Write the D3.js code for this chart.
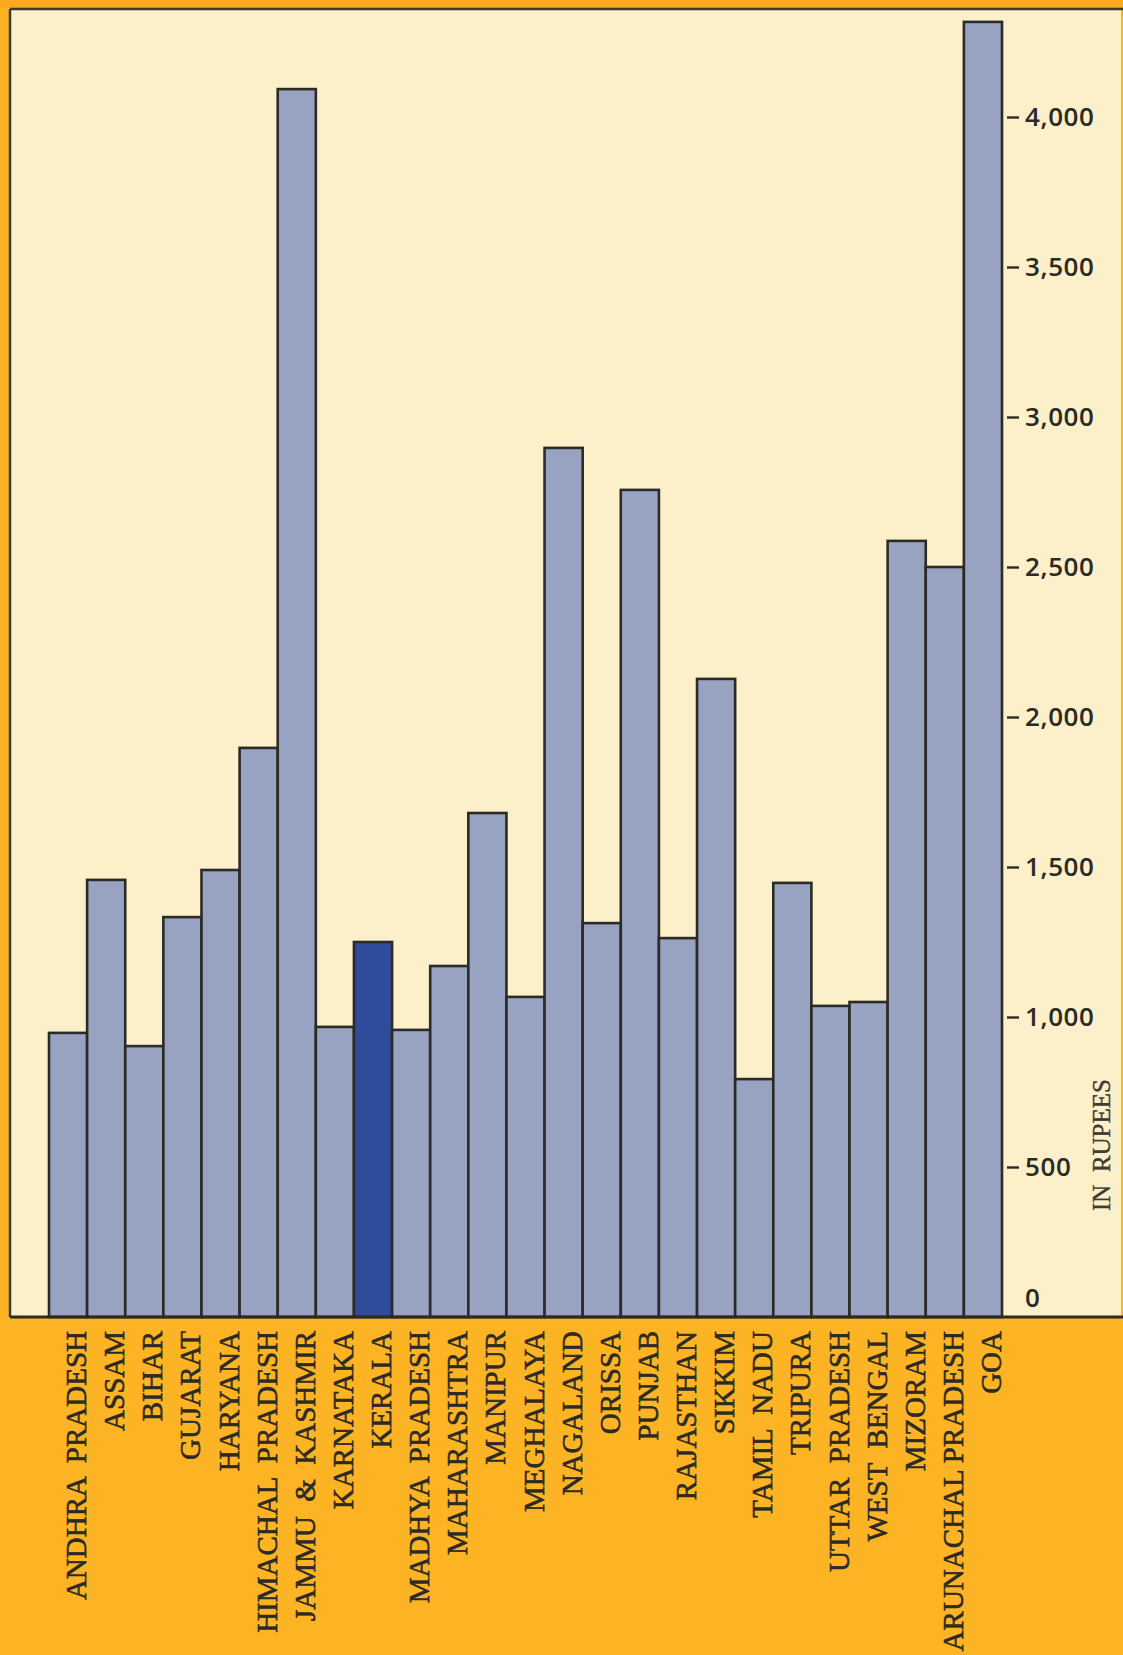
<!DOCTYPE html>
<html>
<head>
<meta charset="utf-8">
<script src="https://cdn.jsdelivr.net/npm/d3@7"></script>
<style>
body{margin:0;padding:0;background:#FDB424;}
svg{display:block;}
</style>
</head>
<body>
<div id="graph"></div>
<script>
// states, left to right
var states=["ANDHRA  PRADESH","ASSAM","BIHAR","GUJARAT","HARYANA","HIMACHAL  PRADESH",
	"JAMMU  &  KASHMIR","KARNATAKA","KERALA","MADHYA  PRADESH","MAHARASHTRA","MANIPUR",
	"MEGHALAYA","NAGALAND","ORISSA","PUNJAB","RAJASTHAN","SIKKIM","TAMIL  NADU","TRIPURA",
	"UTTAR  PRADESH","WEST  BENGAL","MIZORAM","ARUNACHAL PRADESH","GOA"];
// value in rupees
var values=[947,1457,903,1333,1490,1897,4093,967,1250,957,1170,1680,1067,2897,1313,2757,
	1263,2127,793,1447,1037,1050,2587,2500,4317];
var highlight="KERALA";
var yTicks=[0,500,1000,1500,2000,2500,3000,3500,4000];
var yMax=4360;
var unitLabel="IN  RUPEES";

// 設定
var width=1123, height=1655;
var plot={left:10,top:9,right:1121,bottom:1317};
var barLeft=49, barRight=1002;

var svg=d3.select("#graph").append("svg").attr("width",width).attr("height",height);

// orange page + cream plot area
svg.append("rect").attr("width",width).attr("height",height).attr("fill","#FDB424");
svg.append("rect").attr("x",0).attr("y",0).attr("width",width).attr("height",8).attr("fill","#FDA71E");
svg.append("rect")
	.attr("x",plot.left).attr("y",plot.top)
	.attr("width",plot.right-plot.left).attr("height",plot.bottom-plot.top)
	.attr("fill","#FCF0CA");

var x=d3.scaleBand().domain(states).range([barLeft,barRight]).padding(0);
var y=d3.scaleLinear().domain([0,yMax]).range([plot.bottom,plot.top]);

// bars
svg.append("g").selectAll("rect").data(states).enter().append("rect")
	.attr("x",function(d){return x(d);})
	.attr("y",function(d,i){return y(values[i]);})
	.attr("width",x.bandwidth())
	.attr("height",function(d,i){return y(0)-y(values[i]);})
	.attr("fill",function(d){return d==highlight?"#2F4C9B":"#98A2C1";})
	.attr("stroke","#2B2A24")
	.attr("stroke-width",2.6);

// frame lines
svg.append("line").attr("x1",plot.left).attr("x2",plot.left).attr("y1",plot.top).attr("y2",plot.bottom)
	.attr("stroke","#3A3A2C").attr("stroke-width",2.5);
svg.append("line").attr("x1",plot.left).attr("x2",width).attr("y1",plot.top).attr("y2",plot.top)
	.attr("stroke","#3A3A2C").attr("stroke-width",2.5);
svg.append("line").attr("x1",plot.left).attr("x2",width).attr("y1",plot.bottom).attr("y2",plot.bottom)
	.attr("stroke","#2B2A24").attr("stroke-width",3);

// y axis on the right
var yAxis=d3.axisRight(y).tickValues(yTicks).tickSize(12).tickPadding(6).tickFormat(d3.format(","));
var gy=svg.append("g").attr("transform","translate(1007,0)").call(yAxis);
gy.select(".domain").remove();
gy.selectAll(".tick line").attr("stroke","#2B2A24").attr("stroke-width",2.4)
	.attr("opacity",function(d){return d==0?0:1;});
gy.selectAll(".tick text")
	.attr("fill","#2B2A24")
	.style("font-family","'Open Sans',Lato,sans-serif")
	.style("font-size","26px")
	.style("font-weight","600")
	.style("letter-spacing","0.6px")
	.attr("dy",function(d){return d==0?"-0.4em":"0.32em";});

// unit label
svg.append("text").text(unitLabel)
	.attr("transform","translate(1110,1145) rotate(-90)")
	.attr("text-anchor","middle")
	.attr("fill","#3E3B31")
	.attr("stroke","#3E3B31").attr("stroke-width",0.4)
	.style("white-space","pre")
	.style("font-family","'Liberation Serif','DejaVu Serif',serif")
	.style("font-size","25px");

// 州名
svg.append("g").selectAll("text").data(states).enter().append("text")
	.text(function(d){return d;})
	.attr("transform",function(d){
		return "translate("+(x(d)+x.bandwidth()-1)+",1331) rotate(-90)";
	})
	.attr("text-anchor","end")
	.attr("fill","#2B2A24")
	.attr("stroke","#2B2A24").attr("stroke-width",0.6)
	.style("white-space","pre")
	.style("font-family","'Liberation Serif','DejaVu Serif',serif")
	.style("font-size","29px");
</script>
</body>
</html>
